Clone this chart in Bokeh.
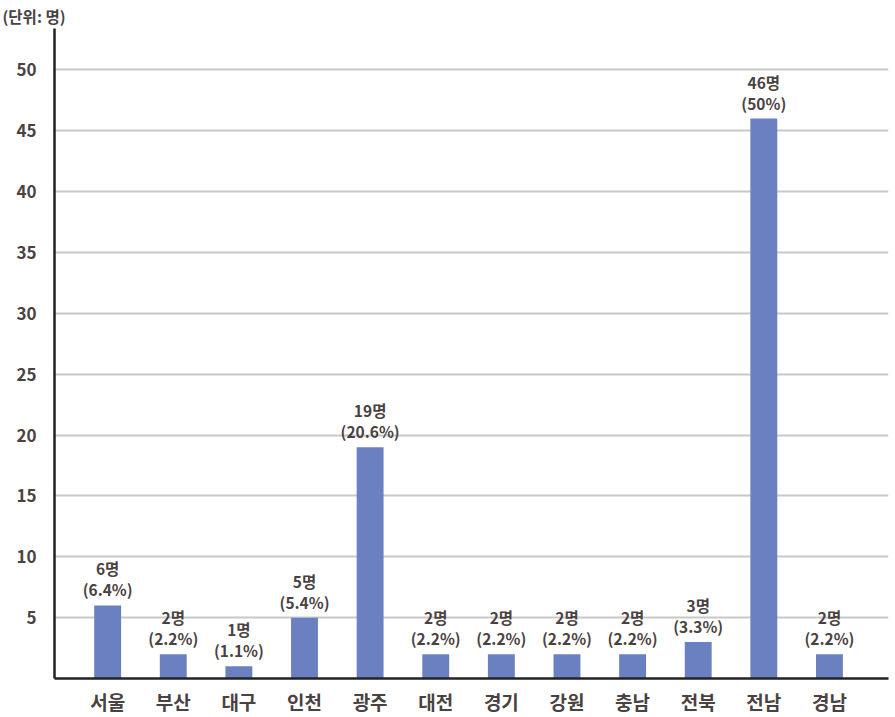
from bokeh.plotting import figure
from bokeh.models import ColumnDataSource, FixedTicker, Range1d, Title
from bokeh.core.properties import value
from bokeh.embed import file_html
from bokeh.resources import INLINE

regions = ["서울", "부산", "대구", "인천", "광주", "대전", "경기", "강원", "충남", "전북", "전남", "경남"]
counts = [6, 2, 1, 5, 19, 2, 2, 2, 2, 3, 46, 2]
percents = ["6.4%", "2.2%", "1.1%", "5.4%", "20.6%", "2.2%", "2.2%", "2.2%", "2.2%", "3.3%", "50%", "2.2%"]
y_ticks = [5, 10, 15, 20, 25, 30, 35, 40, 45, 50]

FONT = "Noto Sans CJK KR"
TXT = "#4a4242"
BAR = "#6b80c0"

xs = list(range(len(regions)))
src = ColumnDataSource(dict(
    x=xs, y=counts,
    top=[f"{c}명" for c in counts],
    bot=[f"({p})" for p in percents],
))

p = figure(width=895, height=717, output_backend="svg", toolbar_location=None,
           x_range=Range1d(-0.81, 11.9), y_range=Range1d(0, 53.4),
           min_border_left=54, min_border_right=7, min_border_top=28, min_border_bottom=39)
p.outline_line_color = None
p.xgrid.grid_line_color = None
p.ygrid.grid_line_color = "#c8c8c8"
p.ygrid.grid_line_width = 2

p.vbar(x="x", top="y", width=0.41, bottom=0, source=src, fill_color=BAR, line_color=None)

p.text(x="x", y="y", text="bot", source=src, y_offset=-5, text_align="center", text_baseline="bottom",
       text_font=value(FONT), text_font_size="15.5px", text_font_style="bold", text_color=TXT)
p.text(x="x", y="y", text="top", source=src, y_offset=-26, text_align="center", text_baseline="bottom",
       text_font=value(FONT), text_font_size="15.5px", text_font_style="bold", text_color=TXT)

p.yaxis.ticker = FixedTicker(ticks=y_ticks)
p.xaxis.ticker = FixedTicker(ticks=xs)
p.xaxis.major_label_overrides = {i: r for i, r in enumerate(regions)}
for ax in (p.xaxis, p.yaxis):
    ax.axis_line_color = "#222222"
    ax.axis_line_width = 2.5
    ax.major_tick_line_color = None
    ax.minor_tick_line_color = None
    ax.major_label_text_font = FONT
    ax.major_label_text_font_style = "bold"
    ax.major_label_text_color = TXT
p.yaxis.major_label_text_font_size = "17px"
p.yaxis.major_label_standoff = 12
p.xaxis.major_label_text_font_size = "19px"
p.xaxis.major_label_standoff = 3

t = Title(text="(단위: 명)", align="left", offset=-52, text_font=FONT, text_font_size="15.5px",
          text_font_style="bold", text_color=TXT, standoff=3)
p.add_layout(t, "above")

open("out.html", "w").write(file_html(p, INLINE))
